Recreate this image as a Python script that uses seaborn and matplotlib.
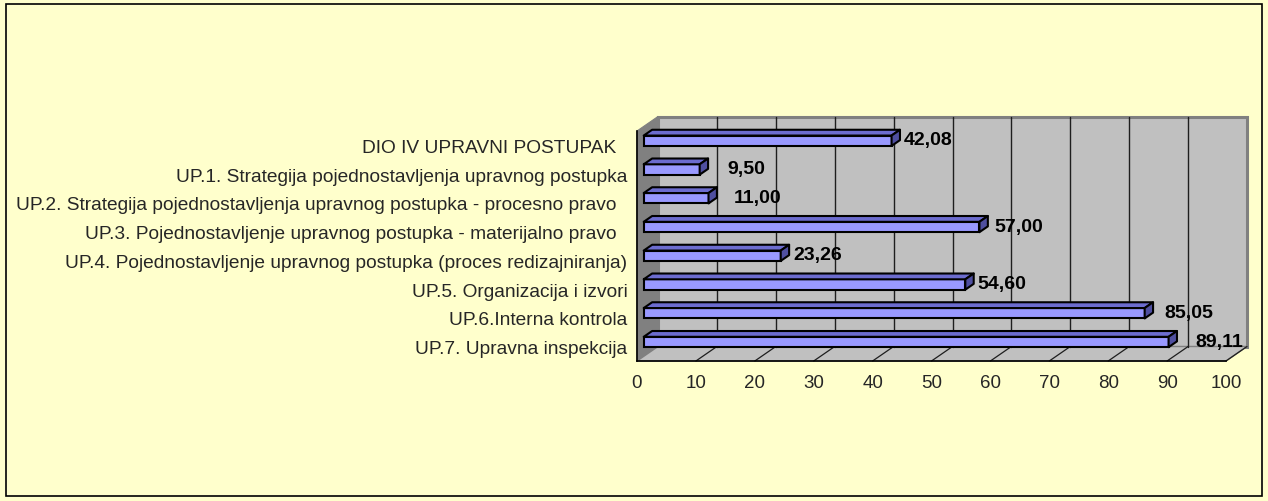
import matplotlib
matplotlib.use("Agg")
import matplotlib.pyplot as plt
from matplotlib.patches import Polygon, Rectangle
from matplotlib.lines import Line2D
import numpy as np
import pandas as pd
import seaborn as sns

# ---- data -------------------------------------------------------------
categories = [
    "DIO IV UPRAVNI POSTUPAK  ",
    "UP.1. Strategija pojednostavljenja upravnog postupka",
    "UP.2. Strategija pojednostavljenja upravnog postupka - procesno pravo  ",
    "UP.3. Pojednostavljenje upravnog postupka - materijalno pravo  ",
    "UP.4. Pojednostavljenje upravnog postupka (proces redizajniranja)",
    "UP.5. Organizacija i izvori",
    "UP.6.Interna kontrola",
    "UP.7. Upravna inspekcija",
]
values = [42.08, 9.50, 11.00, 57.00, 23.26, 54.60, 85.05, 89.11]
x_ticks = [0, 10, 20, 30, 40, 50, 60, 70, 80, 90, 100]

# ---- styling ----------------------------------------------------------
W_PX, H_PX = 1268, 502
BG = "#FFFFCC"
WALL = "#C0C0C0"
SIDE_WALL = "#808080"
FRONT = "#9999FF"
TOP = "#6C6CCF"
SIDE = "#4F4FA0"
BAR_W = 0.36
F1, F2 = 0.32, 0.72          # bar front / back as share of the chart depth
label_gap_px = [4, 19, 17, 7, 4, 4, 11, 18]

sns.set_style("white")
plt.rcParams["font.family"] = ["Liberation Sans", "DejaVu Sans"]

fig = plt.figure(figsize=(W_PX / 100, H_PX / 100), dpi=100, facecolor=BG)

# front plane of the 3-D box, in pixels (top-origin)
left_px, right_px, top_px, bottom_px = 637, 1226, 132, 362
ax = fig.add_axes([left_px / W_PX, 1 - bottom_px / H_PX,
                   (right_px - left_px) / W_PX, (bottom_px - top_px) / H_PX])
ax.set_facecolor("none")

n = len(categories)
xmax = x_ticks[-1]
# depth of the box in data units
DX = 21 / ((right_px - left_px) / xmax)
DY = 14.5 / ((bottom_px - top_px) / n)

y_top, y_bot = -0.5, n - 0.5

# bars (front faces)
df = pd.DataFrame({"category": categories, "value": values})
sns.barplot(data=df, x="value", y="category", orient="h", width=BAR_W,
            color=FRONT, saturation=1, edgecolor="black", linewidth=1.5, ax=ax)
bars = list(ax.patches)

# walls and floor
ax.add_patch(Rectangle((DX, y_top - DY), xmax, n, facecolor=WALL,
                       edgecolor=SIDE_WALL, lw=2.2, clip_on=False, zorder=0.2))
ax.add_patch(Polygon([(0, y_top), (DX, y_top - DY), (DX, y_bot - DY), (0, y_bot)],
                     closed=True, facecolor=SIDE_WALL, edgecolor=SIDE_WALL,
                     lw=0.8, clip_on=False, zorder=0.3))
ax.add_patch(Polygon([(0, y_bot), (xmax, y_bot), (xmax + DX, y_bot - DY), (DX, y_bot - DY)],
                     closed=True, facecolor=WALL, edgecolor=SIDE_WALL,
                     lw=1.0, clip_on=False, zorder=0.3))

# gridlines on the back wall and on the floor
for t in x_ticks[1:-1]:
    ax.add_line(Line2D([t + DX, t + DX], [y_top - DY, y_bot - DY], color="#1e1e1e",
                       lw=1.0, clip_on=False, zorder=0.4))
for t in x_ticks[1:]:
    ax.add_line(Line2D([t, t + DX], [y_bot, y_bot - DY], color="#1e1e1e",
                       lw=0.9, clip_on=False, zorder=0.4))

ddx, ddy = (F2 - F1) * DX, (F2 - F1) * DY
for i, p in enumerate(bars):
    p.set_x(p.get_x() + F1 * DX)
    p.set_y(p.get_y() - F1 * DY)
    p.set_clip_on(False)
    p.set_zorder(1)
    x0, y0 = p.get_x(), p.get_y()
    x1, y1 = x0 + p.get_width(), y0 + p.get_height()
    # top face
    ax.add_patch(Polygon([(x0, y0), (x1, y0), (x1 + ddx, y0 - ddy), (x0 + ddx, y0 - ddy)],
                         closed=True, facecolor=TOP, edgecolor="black", lw=1.5,
                         joinstyle="round", clip_on=False, zorder=1.1))
    # end face
    ax.add_patch(Polygon([(x1, y0), (x1 + ddx, y0 - ddy), (x1 + ddx, y1 - ddy), (x1, y1)],
                         closed=True, facecolor=SIDE, edgecolor="black", lw=1.5,
                         joinstyle="round", clip_on=False, zorder=1.1))
    # value label
    v = values[i]
    ax.annotate(f"{v:.2f}".replace(".", ","),
                xy=(x1 + ddx, (y0 + y1) / 2 - ddy / 2),
                xytext=(label_gap_px[i] * 0.72, -1.5), textcoords="offset points",
                ha="left", va="center", fontsize=14, fontweight="bold",
                color="black", zorder=3, annotation_clip=False)

# axes
ax.set_xlim(0, xmax)
ax.set_ylim(y_bot, y_top)
ax.set_xlabel("")
ax.set_ylabel("")
for s in ("top", "right"):
    ax.spines[s].set_visible(False)
for s in ("left", "bottom"):
    ax.spines[s].set_color("black")
    ax.spines[s].set_linewidth(1.2)
    ax.spines[s].set_zorder(2)

ax.set_xticks(x_ticks)
ax.set_xticklabels([str(t) for t in x_ticks])
ax.tick_params(axis="x", direction="out", length=5, width=1.1, color="black",
               labelsize=13.5, pad=4)
ax.set_yticks(range(n))
ax.set_yticklabels(categories)
ax.set_yticks(np.arange(y_top, y_bot + 0.01, 1), minor=True)
ax.tick_params(axis="y", which="major", length=0, labelsize=13.8, pad=7)
ax.tick_params(axis="y", which="minor", direction="out", length=4.5, width=1.1,
               color="black")

# outer frame
fig.add_artist(Rectangle((6 / W_PX, 5 / H_PX), (1262 - 6) / W_PX, (497 - 5) / H_PX,
                         transform=fig.transFigure, fill=False, edgecolor="black",
                         lw=1.2))

fig.savefig("out.png", dpi=100, facecolor=BG)
